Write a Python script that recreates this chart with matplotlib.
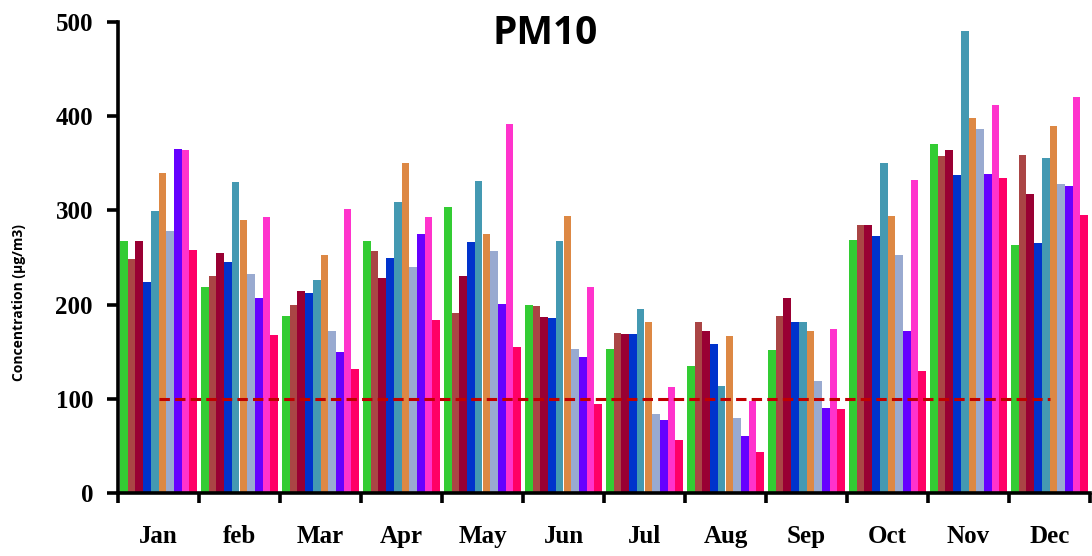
import numpy as np
import matplotlib
matplotlib.use("Agg")
import matplotlib.pyplot as plt
from matplotlib.ticker import FixedLocator, NullFormatter, FixedFormatter

months = ["Jan", "feb", "Mar", "Apr", "May", "Jun",
          "Jul", "Aug", "Sep", "Oct", "Nov", "Dec"]

# monthly PM10 concentration for each of the ten sites (ug/m3)
site_1 = [267, 219, 188, 268, 304, 200, 153, 135, 152, 269, 370, 263]
site_2 = [248, 230, 200, 257, 191, 198, 170, 182, 188, 285, 358, 359]
site_3 = [268, 255, 214, 228, 230, 187, 169, 172, 207, 285, 364, 317]
site_4 = [224, 245, 212, 249, 266, 186, 169, 158, 182, 273, 338, 265]
site_5 = [299, 330, 226, 309, 331, 267, 195, 114, 182, 350, 490, 356]
site_6 = [340, 290, 253, 350, 275, 294, 182, 167, 172, 294, 398, 390]
site_7 = [278, 233, 172, 240, 257, 153, 84, 80, 119, 253, 386, 328]
site_8 = [365, 207, 150, 275, 201, 144, 78, 61, 90, 172, 339, 326]
site_9 = [364, 293, 302, 293, 392, 219, 113, 98, 174, 332, 412, 420]
site_10 = [258, 168, 132, 184, 155, 95, 56, 43, 89, 130, 334, 295]

sites = [site_1, site_2, site_3, site_4, site_5,
         site_6, site_7, site_8, site_9, site_10]
colors = ["#33CC33", "#AA4545", "#990033", "#0033CC", "#4499B2",
          "#DD8844", "#99AAD0", "#6600FF", "#FF33CC", "#FF0066"]

limit = 100  # daily PM10 standard

fig = plt.figure(figsize=(10.92, 5.56), dpi=100)
ax = fig.add_axes([118 / 1092, 63 / 556, 972 / 1092, 471 / 556])

x = np.arange(len(months)) + 0.5
width = 0.095
for i, (vals, c) in enumerate(zip(sites, colors)):
    ax.bar(x + (i - 4.5) * width, vals, width=width, color=c, linewidth=0)

# reference limit line
ax.plot([x[0], x[-1]], [limit, limit], color="#C00000", lw=2.2,
        linestyle=(0, (3.4, 1.7)), zorder=5)

ax.set_xlim(0, 12)
ax.set_ylim(0, 500)

for s in ["top", "right"]:
    ax.spines[s].set_visible(False)
for s in ["left", "bottom"]:
    ax.spines[s].set_linewidth(2.6)

serif = {"family": "Liberation Serif", "weight": "bold", "size": 18}

ax.set_yticks(range(0, 501, 100))
ax.set_yticklabels([str(v) for v in range(0, 501, 100)], fontdict=serif)
ax.tick_params(axis="y", direction="out", length=8, width=2.6, pad=10)

ax.xaxis.set_major_locator(FixedLocator(range(0, 13)))
ax.xaxis.set_major_formatter(NullFormatter())
ax.xaxis.set_minor_locator(FixedLocator(x))
ax.xaxis.set_minor_formatter(FixedFormatter(months))
ax.tick_params(axis="x", which="major", direction="out", length=7, width=2.6)
ax.tick_params(axis="x", which="minor", length=0, pad=23)
for lbl in ax.get_xticklabels(minor=True):
    lbl.set_fontproperties(matplotlib.font_manager.FontProperties(**serif))

fig.text(545 / 1092, 1 - 34 / 556, "PM10", ha="center", va="center",
         family="Open Sans", weight="bold", fontsize=28)

fig.text(19 / 1092, 1 - 303 / 556, "Concentration (\u00b5g/m3)", rotation=90,
         ha="center", va="center", family="Open Sans", weight="bold", fontsize=10)

fig.savefig("out.png", dpi=100)
